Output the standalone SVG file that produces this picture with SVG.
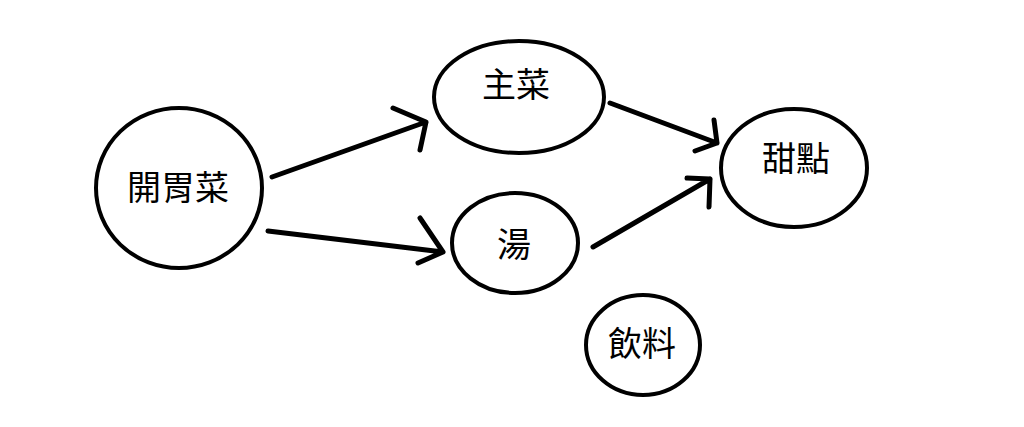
<svg xmlns="http://www.w3.org/2000/svg" width="1024" height="427" viewBox="0 0 1024 427">
<style>
.node{fill:#fff;stroke:#000;stroke-width:4}
.lbl{font-family:"Liberation Serif","Noto Sans CJK TC",serif;font-size:34px;fill:#000;text-anchor:middle}
.edge{fill:none;stroke:#000;stroke-width:5;stroke-linecap:round;stroke-linejoin:round}
</style>
<rect width="1024" height="427" fill="#fff"/>
<g id="connectors">
<path class="edge" d="M272,177 L426,122 M393,108 L426,122 L420,150"/>
<path class="edge" d="M268,231 L443,252 M420,218 L443,252 L418,263"/>
<path class="edge" d="M610,103 L717,143 M714,120 L717,143 L695,151"/>
<path class="edge" d="M593,247 L710,179 M687,178 L710,179 L709,207"/>
</g>
<g id="n-appetizer">
<ellipse class="node" cx="179" cy="188" rx="83" ry="80"/>
<text class="lbl" x="178" y="200">開胃菜</text>
</g>
<g id="n-main">
<ellipse class="node" cx="519" cy="97" rx="85" ry="56"/>
<text class="lbl" x="516" y="97">主菜</text>
</g>
<g id="n-soup">
<ellipse class="node" cx="515" cy="243" rx="63" ry="50"/>
<text class="lbl" x="514" y="257">湯</text>
</g>
<g id="n-dessert">
<ellipse class="node" cx="794" cy="168" rx="73" ry="59"/>
<text class="lbl" x="796" y="171">甜點</text>
</g>
<g id="n-drink">
<ellipse class="node" cx="643" cy="345" rx="57" ry="50"/>
<text class="lbl" x="642" y="356">飲料</text>
</g>
</svg>
